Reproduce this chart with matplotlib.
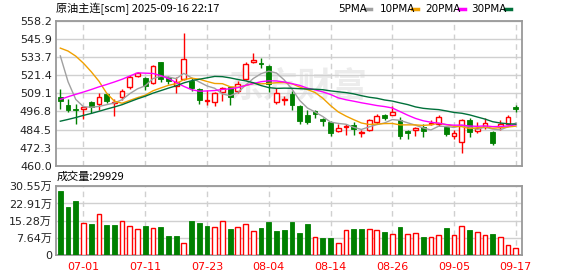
import numpy as np
import pandas as pd
import matplotlib
matplotlib.use("Agg")
import matplotlib.pyplot as plt
from matplotlib.lines import Line2D

# ---------------- data ----------------
dates = pd.bdate_range("2025-06-26", "2025-09-17").strftime("%m-%d").tolist()

opens = [506.3, 500.9, 498.6, 498.6, 503.2, 502.2, 508.6, 502.8, 506.3, 513.6,
         520.9, 519.3, 515.9, 530.4, 520.0, 514.1, 518.6, 517.7, 512.0, 503.8,
         503.4, 510.2, 513.2, 510.9, 518.6, 530.2, 530.0, 527.7, 503.4, 504.5,
         508.6, 500.4, 494.3, 496.8, 491.8, 489.7, 483.4, 486.5, 487.9, 482.5,
         484.5, 489.5, 494.1, 494.7, 491.3, 483.4, 484.0, 486.1, 488.1, 488.6,
         486.3, 479.9, 476.1, 490.9, 483.4, 486.3, 482.7, 486.3, 488.6, 499.5]
highs = [511.8, 505.6, 502.2, 500.4, 504.1, 509.5, 509.5, 505.6, 511.8, 521.6,
         523.8, 520.4, 528.4, 530.4, 520.9, 520.4, 550.0, 519.3, 512.5, 511.3,
         510.2, 513.6, 513.6, 517.7, 530.7, 536.8, 533.4, 528.4, 512.5, 507.2,
         510.6, 501.1, 497.7, 498.1, 492.7, 490.4, 488.6, 488.1, 489.7, 484.5,
         492.0, 495.0, 495.4, 500.4, 493.1, 484.0, 486.3, 488.6, 491.3, 494.7,
         486.6, 484.0, 491.8, 492.7, 489.7, 492.7, 483.4, 491.3, 494.7, 501.1]
lows = [498.8, 496.6, 488.6, 492.0, 495.9, 498.1, 502.7, 493.8, 504.5, 512.0,
        520.0, 511.3, 515.4, 517.0, 515.2, 509.5, 518.2, 510.9, 501.8, 501.1,
        500.6, 503.8, 501.1, 509.5, 518.2, 529.5, 526.1, 510.2, 502.2, 501.1,
        497.7, 488.6, 488.1, 492.4, 486.8, 479.9, 482.9, 480.6, 480.6, 479.5,
        483.6, 488.6, 490.9, 494.3, 478.1, 478.4, 479.9, 479.5, 487.5, 486.8,
        479.9, 478.4, 468.6, 479.5, 482.2, 485.2, 473.8, 484.0, 487.5, 496.6]
closes = [503.6, 498.1, 497.5, 499.7, 499.5, 506.3, 504.1, 503.2, 510.9, 520.0,
          522.7, 514.3, 527.7, 518.6, 517.7, 517.0, 532.3, 512.5, 504.5, 504.3,
          509.1, 512.9, 506.8, 515.4, 529.1, 531.8, 529.1, 515.4, 509.1, 505.6,
          501.1, 490.4, 489.7, 495.4, 490.2, 482.2, 485.9, 487.0, 484.9, 483.0,
          490.9, 493.6, 492.7, 496.3, 480.4, 482.5, 485.6, 483.4, 489.3, 493.1,
          481.8, 482.0, 490.9, 483.0, 485.6, 489.3, 475.4, 488.6, 493.1, 498.6]
# closes of the 29 sessions before the window (needed for the moving averages)
hist_closes = [462, 459, 456, 460, 463, 458, 461, 464, 460, 463,
               462, 465, 468, 466, 470, 472, 469, 474, 476, 480,
               518, 532, 548, 556.8, 570.7, 585.6, 557.5, 524.7, 501.1]
volumes = [28.5, 21.4, 24.0, 14.1, 13.8, 18.1, 13.3, 13.3, 15.0, 12.8,
           11.4, 12.9, 11.9, 12.5, 8.5, 8.5, 5.2, 15.1, 14.2, 12.9,
           12.3, 15.0, 11.6, 12.3, 13.6, 10.5, 12.0, 14.7, 10.7, 11.1,
           14.7, 9.8, 13.8, 7.9, 7.6, 7.6, 5.2, 11.0, 11.6, 11.6,
           11.4, 11.0, 10.2, 9.2, 12.5, 9.2, 9.6, 8.0, 8.0, 8.7,
           12.0, 8.7, 12.8, 11.1, 10.1, 8.7, 9.3, 7.9, 4.3, 2.99]  # 万手

ma_periods = [5, 10, 20, 30]
ma_names = ["5PMA", "10PMA", "20PMA", "30PMA"]
tick_dates = ["07-01", "07-11", "07-23", "08-04", "08-14", "08-26", "09-05", "09-17"]
price_ticks = ["460.0", "472.3", "484.5", "496.8", "509.1", "521.4", "533.7", "545.9", "558.2"]
vol_ticks = ["0", "7.64万", "15.28万", "22.91万", "30.55万"]
title = "原油主连[scm] 2025-09-16 22:17"
vol_title = "成交量:29929"

# ---------------- style ----------------
RED = "#ff0000"
GREEN = "#008000"
MA_COLORS = ["#a0a0a0", "#f0a000", "#ff00ff", "#00703a"]
FRAME = "#999999"
GRID = "#d0d0d0"
FONT = ["DejaVu Sans", "Noto Sans CJK SC"]
CJK = ["Noto Sans CJK SC", "DejaVu Sans"]

W, H = 578, 276
fig = plt.figure(figsize=(W / 100, H / 100), dpi=100)
fig.patch.set_facecolor("white")

def fx(px):
    return px / W

def fy(py):
    return 1 - py / H

L, R = 56, 522
ax = fig.add_axes([fx(L), fy(165.7), fx(R - L), fy(21) - fy(165.7)])
axv = fig.add_axes([fx(L), fy(255), fx(R - L), fy(186.3) - fy(255)])

o = np.array(opens); h = np.array(highs); lo = np.array(lows); c = np.array(closes)
v = np.array(volumes)
n = len(c)
x = np.arange(n)
full = np.concatenate([np.array(hist_closes, float), c])
off = len(hist_closes)

# watermark
ax.text(0.52, 0.55, "东方财富", transform=ax.transAxes, ha="center", va="center",
        fontsize=25, color="#ececec", family=CJK, fontweight="bold", zorder=0)

# candles
up = c >= o
bw = 0.62
for i in range(n):
    col = RED if up[i] else GREEN
    bot, top = min(o[i], c[i]), max(o[i], c[i])
    hgt = max(top - bot, 0.25)
    if up[i]:
        ax.vlines(x[i], lo[i], bot, color=col, lw=1.0, zorder=2)
        ax.vlines(x[i], top, h[i], color=col, lw=1.0, zorder=2)
        ax.bar(x[i], hgt, bottom=bot, width=bw, facecolor="white", edgecolor=col,
               linewidth=1.0, zorder=3)
    else:
        ax.vlines(x[i], lo[i], h[i], color=col, lw=1.0, zorder=2)
        ax.bar(x[i], hgt, bottom=bot, width=bw, facecolor=col, edgecolor=col,
               linewidth=0.6, zorder=3)

# moving averages
for p, col in zip(ma_periods, MA_COLORS):
    ma = np.array([full[off + i - p + 1: off + i + 1].mean() for i in range(n)])
    ax.plot(x, ma, color=col, lw=1.0, zorder=4)

# volume
prev = np.concatenate([[o[0]], c[:-1]])
vup = c >= prev
for i in range(n):
    if vup[i]:
        axv.bar(x[i], v[i], width=bw, facecolor="white", edgecolor=RED, linewidth=1.0, zorder=3)
    else:
        axv.bar(x[i], v[i], width=bw, facecolor=GREEN, edgecolor=GREEN, linewidth=0.6, zorder=3)

# axes styling
tick_idx = [dates.index(d) for d in tick_dates]
pvals = [float(t) for t in price_ticks]
vvals = [float(t.replace("万", "")) for t in vol_ticks]
for a in (ax, axv):
    a.set_xlim(-0.56, n - 0.2)
    for s in a.spines.values():
        s.set_color(FRAME)
        s.set_linewidth(1.3)
    a.set_xticks(tick_idx)
    for t in tick_idx:
        a.axvline(t, color=GRID, lw=1.0, ls=(0, (4, 3)), zorder=1)
    a.tick_params(length=0)

ax.set_ylim(pvals[0], pvals[-1])
ax.set_yticks(pvals)
ax.set_yticklabels(price_ticks, fontsize=8, color="#222222", family=FONT)
ax.set_xticklabels([])
for yv in pvals:
    ax.axhline(yv, color=GRID, lw=1.0, zorder=1)
ax.tick_params(axis="y", pad=3)

axv.set_ylim(0, vvals[-1])
axv.set_yticks(vvals)
axv.set_yticklabels(vol_ticks, fontsize=8, color="#222222", family=FONT)
for yv in vvals:
    axv.axhline(yv, color=GRID, lw=1.0, zorder=1)
axv.set_xticklabels(tick_dates, fontsize=8, color=RED, family=FONT)
axv.tick_params(axis="y", pad=3)
axv.tick_params(axis="x", pad=5)

# texts
fig.text(fx(56), fy(9), title, fontsize=8, family=CJK, ha="left", va="center", color="#000000")
fig.text(fx(57), fy(177), vol_title, fontsize=8, family=CJK, ha="left", va="center", color="#000000")

leg_text_x = [338, 380, 425, 471]
leg_line_x = [365, 412, 459, 505]
for name, tx, lx, col in zip(ma_names, leg_text_x, leg_line_x, MA_COLORS):
    fig.text(fx(tx), fy(9), name, fontsize=7.5, family=FONT, ha="left", va="center", color="#000000")
    fig.add_artist(Line2D([fx(lx), fx(lx + 6)], [fy(9), fy(9)], color=col, lw=2.5,
                          transform=fig.transFigure))

fig.savefig("out.png", dpi=100, facecolor="white")
